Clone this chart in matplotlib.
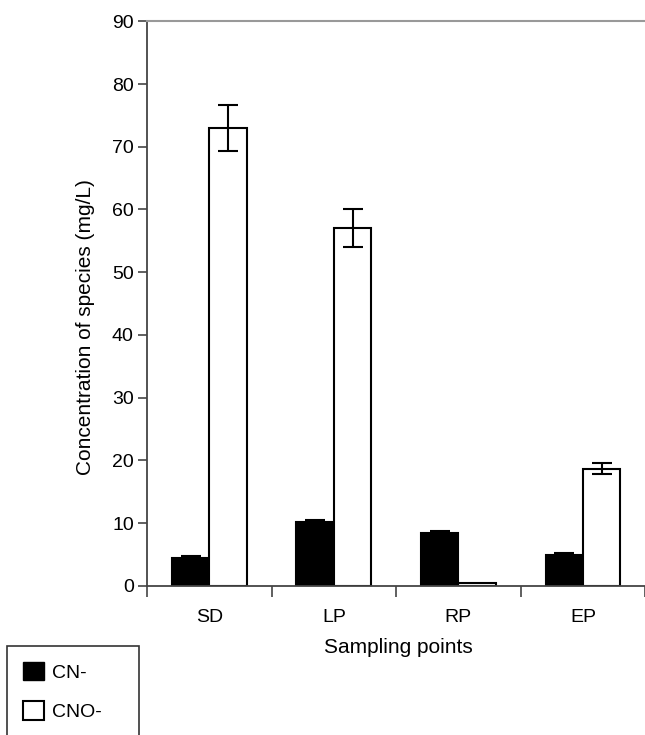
import numpy as np
import matplotlib
matplotlib.use("Agg")
from matplotlib import pyplot as plt
from matplotlib.patches import Patch, Rectangle

plt.rcParams['font.family'] = ['Liberation Sans', 'DejaVu Sans']

sites = ['SD', 'LP', 'RP', 'EP']
cn_vals = [4.5, 10.1, 8.4, 4.9]
cn_err = [0.3, 0.4, 0.3, 0.35]
cno_vals = [73.0, 57.0, 0.4, 18.7]
cno_err = [3.7, 3.0, 0.0, 0.9]

fig = plt.figure(figsize=(6.45, 7.35), dpi=100)
ax = fig.add_axes([0.228, 0.203, 0.78, 0.768])

x = np.arange(len(sites))
w = 0.3
ekw = dict(elinewidth=1.5, capthick=1.5)
ax.bar(x - w / 2, cn_vals, w, yerr=cn_err, color='black', edgecolor='black',
       linewidth=1.5, capsize=7.5, error_kw=ekw)
err = [e if e > 0 else np.nan for e in cno_err]
ax.bar(x + w / 2, cno_vals, w, yerr=err, color='white', edgecolor='black',
       linewidth=1.5, capsize=7.5, error_kw=ekw)

ax.set_xlim(-0.5, 3.54)
ax.set_ylim(0, 90)
ax.set_yticks(np.arange(0, 91, 10))
ax.set_xticks(x)
ax.set_xticklabels(sites)
ax.tick_params(axis='x', which='major', length=0, pad=17, labelsize=14)
ax.set_xticks([-0.5, 0.5, 1.5, 2.5, 3.5], minor=True)
ax.tick_params(axis='x', which='minor', length=8, width=1.2, color='#444444',
               direction='out')
ax.tick_params(axis='y', length=6.5, width=1.2, color='#444444', labelsize=14,
               pad=3)

for s in ['left', 'bottom']:
    ax.spines[s].set_color('#444444')
    ax.spines[s].set_linewidth(1.3)
ax.spines['top'].set_color('#999999')
ax.spines['top'].set_linewidth(1.5)
ax.spines['right'].set_visible(False)

ax.set_xlabel('Sampling points', fontsize=15, labelpad=8)
ax.set_ylabel('Concentration of species (mg/L)', fontsize=15)
ax.yaxis.set_label_coords(-0.103, 0.458)

# legend, frame drawn separately so it runs off the bottom edge
handles = [Patch(facecolor='black', edgecolor='black'),
           Patch(facecolor='white', edgecolor='black', linewidth=1.5)]
fig.legend(handles, ['CN-', 'CNO-'], loc='upper left',
           bbox_to_anchor=(7 / 645, 1 - 646 / 735), fontsize=14,
           handlelength=1.1, handleheight=1.1, handletextpad=0.4,
           labelspacing=1.0, borderpad=0.8, borderaxespad=0, frameon=False)
fig.patches.append(Rectangle((7 / 645, -0.01), 132 / 645, 0.01 + 89 / 735,
                             transform=fig.transFigure, fill=False,
                             edgecolor='#333333', linewidth=1.2))

fig.savefig('out.png', dpi=100)
